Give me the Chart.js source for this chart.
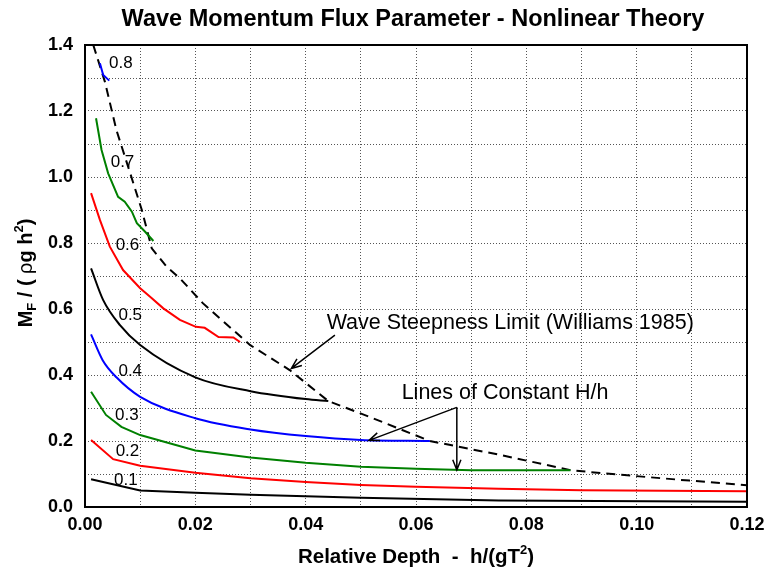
<!DOCTYPE html>
<html>
<head>
<meta charset="utf-8">
<title>Wave Momentum Flux Parameter - Nonlinear Theory</title>
<script src="https://cdn.jsdelivr.net/npm/chart.js@4.4.1/dist/chart.umd.min.js"></script>
<style>
  html, body { margin: 0; padding: 0; background: #fff; }
  #wrap { width: 765px; height: 572px; }
</style>
</head>
<body>
<div id="wrap"><canvas id="myChart" width="765" height="572"></canvas></div>
<script>
'use strict';

// h/(gT^2) -> M_F/(rho g h^2), one pair of arrays per H/h line
const h01X = [0.0011, 0.010, 0.020, 0.030, 0.050, 0.075, 0.120];
const h01Y = [0.084, 0.050, 0.043, 0.037, 0.028, 0.020, 0.016];

const h02X = [0.0011, 0.0051, 0.010, 0.020, 0.030, 0.040, 0.050, 0.060, 0.075, 0.090, 0.120];
const h02Y = [0.203, 0.145, 0.125, 0.104, 0.087, 0.076, 0.067, 0.061, 0.055, 0.051, 0.048];

const h03X = [0.0011, 0.0038, 0.0066, 0.010, 0.020, 0.030, 0.040, 0.050, 0.060, 0.070, 0.080, 0.088];
const h03Y = [0.349, 0.279, 0.243, 0.218, 0.171, 0.150, 0.134, 0.122, 0.116, 0.111, 0.111, 0.111];

const h04X = [0.0011, 0.0032, 0.0057, 0.010, 0.020, 0.030, 0.040, 0.050, 0.0625];
const h04Y = [0.523, 0.445, 0.393, 0.334, 0.269, 0.235, 0.215, 0.203, 0.200];

const h05X = [0.0011, 0.0033, 0.0063, 0.010, 0.020, 0.030, 0.040, 0.0441];
const h05Y = [0.723, 0.627, 0.552, 0.491, 0.393, 0.351, 0.327, 0.321];

const h06X = [0.0011, 0.0027, 0.0045, 0.0069, 0.010, 0.0118, 0.0142, 0.0172, 0.0201, 0.0217, 0.0242, 0.0269, 0.0281];
const h06Y = [0.951, 0.870, 0.789, 0.718, 0.663, 0.637, 0.602, 0.567, 0.546, 0.543, 0.515, 0.514, 0.500];

const h07X = [0.0020, 0.0030, 0.0042, 0.0060, 0.0072, 0.0085, 0.0094, 0.0109, 0.0124];
const h07Y = [1.178, 1.082, 1.011, 0.940, 0.925, 0.895, 0.860, 0.834, 0.806];

const h08X = [0.0027, 0.0033, 0.0044];
const h08Y = [1.345, 1.309, 1.292];

// steepness limit (dashed)
const limX = [0.0015, 0.0036, 0.0057, 0.0082, 0.0103, 0.0121, 0.0148, 0.0172, 0.0214, 0.0299, 0.0371, 0.0441, 0.0522, 0.0625, 0.0752, 0.0882, 0.0996, 0.1096, 0.120];
const limY = [1.400, 1.289, 1.142, 1.011, 0.900, 0.784, 0.728, 0.693, 0.617, 0.491, 0.415, 0.321, 0.269, 0.200, 0.158, 0.111, 0.094, 0.080, 0.066];

// H/h labels next to the curves
const curveLabels = ['0.1', '0.2', '0.3', '0.4', '0.5', '0.6', '0.7', '0.8'];
const labelX = [0.0074, 0.0077, 0.0076, 0.0082, 0.0082, 0.0077, 0.0068, 0.0065];
const labelY = [0.082, 0.168, 0.279, 0.410, 0.582, 0.794, 1.043, 1.346];

// notes + arrows (data units)
const noteText = ['Wave Steepness Limit (Williams 1985)', 'Lines of Constant H/h'];
const noteX = [0.0438, 0.0574];
const noteY = [0.558, 0.345];
const arrowFromX = [0.0453, 0.0674, 0.0674];
const arrowFromY = [0.521, 0.302, 0.302];
const arrowToX = [0.0374, 0.0515, 0.0674];
const arrowToY = [0.420, 0.202, 0.112];

const FONT = "'Liberation Sans', Arial, Helvetica, sans-serif";
Chart.defaults.font.family = FONT;
Chart.defaults.color = '#000';

function pts(xs, ys) {
  return xs.map((x, i) => ({ x: x, y: ys[i] }));
}

function line(xs, ys, color, opts) {
  opts = opts || {};
  return {
    data: pts(xs, ys),
    showLine: true,
    borderColor: color,
    borderWidth: 2,
    borderDash: opts.dash || [],
    cubicInterpolationMode: opts.smooth ? 'monotone' : 'default',
    pointRadius: 0,
    tension: 0,
    fill: false
  };
}

function arrow(ctx, x1, y1, x2, y2) {
  const ang = Math.atan2(y2 - y1, x2 - x1);
  const len = 11, spread = 0.38;
  ctx.beginPath();
  ctx.moveTo(x1, y1);
  ctx.lineTo(x2, y2);
  ctx.moveTo(x2 - len * Math.cos(ang - spread), y2 - len * Math.sin(ang - spread));
  ctx.lineTo(x2, y2);
  ctx.lineTo(x2 - len * Math.cos(ang + spread), y2 - len * Math.sin(ang + spread));
  ctx.stroke();
}

// draws a run of text pieces, each {t, font, dy}, centred on 0
function pieces(ctx, parts) {
  let w = 0;
  parts.forEach(p => { ctx.font = p.font; w += ctx.measureText(p.t).width; });
  let x = -w / 2;
  parts.forEach(p => {
    ctx.font = p.font;
    ctx.fillText(p.t, x, p.dy || 0);
    x += ctx.measureText(p.t).width;
  });
}

const extras = {
  id: 'extras',
  afterDatasetsDraw(chart) {
    const { ctx, chartArea: a, scales: { x, y } } = chart;
    ctx.save();
    ctx.fillStyle = '#000';
    ctx.strokeStyle = '#000';

    // curve labels
    ctx.font = '17px ' + FONT;
    ctx.textAlign = 'center';
    ctx.textBaseline = 'middle';
    curveLabels.forEach((t, i) => {
      ctx.fillText(t, x.getPixelForValue(labelX[i]), y.getPixelForValue(labelY[i]));
    });

    // notes
    ctx.font = '21.5px ' + FONT;
    ctx.textAlign = 'left';
    noteText.forEach((t, i) => {
      ctx.fillText(t, x.getPixelForValue(noteX[i]), y.getPixelForValue(noteY[i]));
    });
    ctx.lineWidth = 1.5;
    arrowFromX.forEach((fx, i) => {
      arrow(ctx, x.getPixelForValue(fx), y.getPixelForValue(arrowFromY[i]),
        x.getPixelForValue(arrowToX[i]), y.getPixelForValue(arrowToY[i]));
    });

    // frame
    ctx.lineWidth = 2;
    ctx.strokeRect(a.left, a.top, a.right - a.left, a.bottom - a.top);

    // title
    ctx.textAlign = 'left';
    ctx.textBaseline = 'alphabetic';
    ctx.translate((a.left + a.right) / 2 - 3, 26);
    pieces(ctx, [{ t: 'Wave Momentum Flux Parameter - Nonlinear Theory', font: 'bold 23.5px ' + FONT }]);
    ctx.setTransform(1, 0, 0, 1, 0, 0);

    // x title
    const b = 'bold 20.5px ' + FONT, s = 'bold 13px ' + FONT;
    ctx.translate((a.left + a.right) / 2, 563);
    pieces(ctx, [
      { t: 'Relative Depth  -  h/(gT', font: b },
      { t: '2', font: s, dy: -9 },
      { t: ')', font: b }
    ]);
    ctx.setTransform(1, 0, 0, 1, 0, 0);

    // y title
    ctx.translate(32, (a.top + a.bottom) / 2 - 3);
    ctx.rotate(-Math.PI / 2);
    const by = 'bold 20px ' + FONT;
    pieces(ctx, [
      { t: 'M', font: by },
      { t: 'F', font: s, dy: 4 },
      { t: ' / ( ', font: by },
      { t: '\u03c1', font: '20px ' + FONT },
      { t: 'g h', font: by },
      { t: '2', font: s, dy: -9 },
      { t: ')', font: by }
    ]);
    ctx.restore();
  }
};

const ctx = document.getElementById('myChart').getContext('2d');
const myChart = new Chart(ctx, {
  type: 'scatter',
  data: {
    datasets: [
      line(h01X, h01Y, '#000000'),
      line(h02X, h02Y, '#ff0000'),
      line(h03X, h03Y, '#008000'),
      line(h04X, h04Y, '#0000ff', { smooth: true }),
      line(h05X, h05Y, '#000000', { smooth: true }),
      line(h06X, h06Y, '#ff0000'),
      line(h07X, h07Y, '#008000'),
      line(h08X, h08Y, '#0000ff'),
      line(limX, limY, '#000000', { dash: [9, 6] })
    ]
  },
  options: {
    responsive: false,
    animation: false,
    layout: { padding: { top: 45, right: 18, bottom: 0, left: 0 } },
    plugins: {
      legend: { display: false },
      tooltip: { enabled: false }
    },
    scales: {
      x: {
        type: 'linear',
        min: 0,
        max: 0.12,
        afterFit: (scale) => {
          scale.height = 65;
          scale.paddingLeft = 0;
          scale.paddingRight = 0;
        },
        grid: { color: '#555', lineWidth: 1, drawTicks: false },
        border: { display: false, dash: [1, 2] },
        ticks: {
          stepSize: 0.01,
          padding: 7,
          font: { size: 18, weight: 'bold' },
          color: '#000',
          maxRotation: 0,
          callback: (v) => Math.round(v * 100) % 2 === 0 ? v.toFixed(2) : ''
        }
      },
      y: {
        min: 0,
        max: 1.4,
        afterFit: (scale) => {
          scale.width = 85;
          scale.paddingTop = 0;
          scale.paddingBottom = 0;
        },
        grid: { color: '#555', lineWidth: 1, drawTicks: false },
        border: { display: false, dash: [1, 2] },
        ticks: {
          stepSize: 0.1,
          padding: 12,
          font: { size: 18, weight: 'bold' },
          color: '#000',
          callback: (v) => Math.round(v * 10) % 2 === 0 ? v.toFixed(1) : ''
        }
      }
    }
  },
  plugins: [extras]
});
</script>
</body>
</html>
